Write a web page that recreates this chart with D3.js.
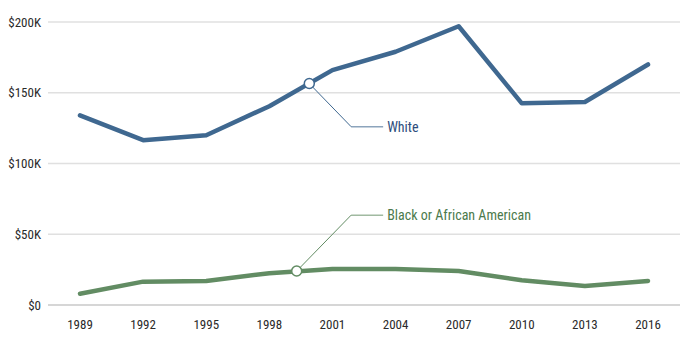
<!DOCTYPE html>
<html><head><meta charset="utf-8">
<script src="https://cdn.jsdelivr.net/npm/d3@7"></script>
<style>
body{margin:0;background:#fff;}
text{font-family:"Liberation Sans Narrow","Roboto Condensed","Arial Narrow",sans-serif;}
</style></head>
<body><svg id="c" width="686" height="339"></svg>
<script>
const years = [1989,1992,1995,1998,2001,2004,2007,2010,2013,2016];
const white = [134,116.5,120,140.5,166,179,197,142.5,143.5,170];
const black = [8,16.5,17,22.5,25.5,25.5,24,17.5,13.5,17];
const yTicks = [0,50,100,150,200];
const yTickLabels = ["$0","$50K","$100K","$150K","$200K"];
const seriesNames = ["White","Black or African American"];
const markerYears = [1999.9, 1999.3];
const markerValues = [156.5, 24];
const labelYears = [2003.6, 2003.6];
const labelValues = [126, 63.5];

const colors = ["#3f6890","#628c63"];
const labelColors = ["#2e4e7c","#4c7a4c"];
const svg = d3.select("#c");
const x = d3.scaleLinear().domain([1989,2016]).range([80,648]);
const y = d3.scaleLinear().domain([0,200]).range([305,22]);

svg.append("g").selectAll("line").data(yTicks).join("line")
  .attr("x1",48).attr("x2",680)
  .attr("y1",d=>y(d)).attr("y2",d=>y(d))
  .attr("stroke",d=>d===0?"#c8c8c8":"#e0e0e0").attr("stroke-width",1.5);

svg.append("g").selectAll("text").data(yTicks).join("text")
  .attr("x",41).attr("y",d=>y(d)).attr("dy","0.35em")
  .attr("text-anchor","end").attr("font-size",13).attr("fill","#2a2a2a")
  .text((d,i)=>yTickLabels[i]);

svg.append("g").selectAll("text").data(years).join("text")
  .attr("x",d=>x(d)).attr("y",329)
  .attr("text-anchor","middle").attr("font-size",13).attr("fill","#2a2a2a")
  .text(d=>d);

const line = d3.line().x((d,i)=>x(years[i])).y(d=>y(d));
[white,black].forEach((s,k)=>{
  svg.append("path").attr("d",line(s)).attr("fill","none")
    .attr("stroke",colors[k]).attr("stroke-width",4.5)
    .attr("stroke-linejoin","round").attr("stroke-linecap","round");
});

seriesNames.forEach((name,k)=>{
  const mx = x(markerYears[k]), my = y(markerValues[k]);
  const lx = x(labelYears[k]), ly = y(labelValues[k]);
  const ex = lx - 36;
  svg.append("polyline")
    .attr("points",`${mx},${my} ${ex},${ly}`)
    .attr("fill","none").attr("stroke",colors[k]).attr("stroke-width",1);
  svg.append("line").attr("x1",ex).attr("x2",lx-4).attr("y1",ly).attr("y2",ly)
    .attr("stroke",colors[k]).attr("stroke-opacity",0.6).attr("stroke-width",1.5);
  svg.append("circle").attr("cx",mx).attr("cy",my).attr("r",5)
    .attr("fill","#fff").attr("stroke",colors[k]).attr("stroke-width",1.5);
  svg.append("text").attr("x",lx).attr("y",ly).attr("dy","0.35em")
    .attr("font-size",14).attr("fill",labelColors[k]).text(name);
});
</script></body></html>
